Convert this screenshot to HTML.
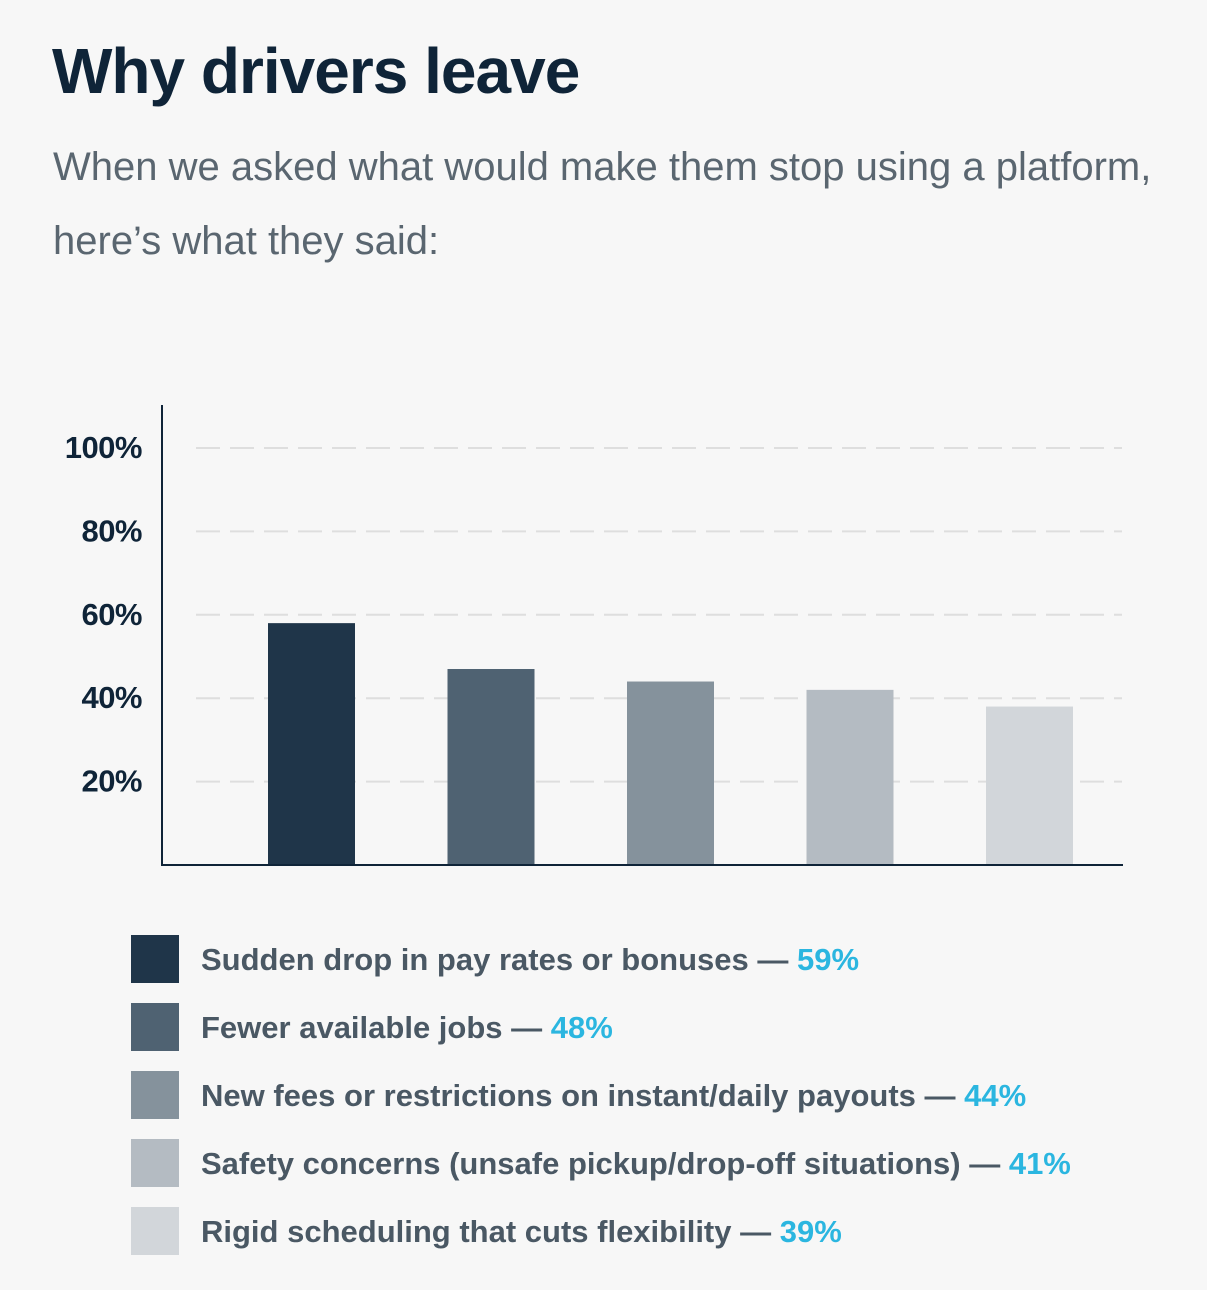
<!DOCTYPE html>
<html><head><meta charset="utf-8">
<style>
html,body{margin:0;padding:0;background:#f7f7f7;}
body{width:1207px;height:1290px;position:relative;overflow:hidden;font-family:"Liberation Sans",sans-serif;}
h1{position:absolute;left:52px;top:34px;margin:0;font-size:64px;font-weight:bold;color:#0f2438;letter-spacing:-1px;line-height:74px;}
.sub{position:absolute;left:53px;top:130px;width:1150px;margin:0;font-size:40px;color:#5a6670;line-height:74px;}
svg{position:absolute;left:0;top:0;}
</style></head>
<body>
<h1>Why drivers leave</h1>
<p class="sub">When we asked what would make them stop using a platform,<br>here’s what they said:</p>
<svg id="chart" width="1207" height="1290"></svg>
<script>
const categories = ["Sudden drop in pay rates or bonuses","Fewer available jobs","New fees or restrictions on instant/daily payouts","Safety concerns (unsafe pickup/drop-off situations) ","Rigid scheduling that cuts flexibility"];
const values = [58,47,44,42,38];
const legendPercents = ["59%","48%","44%","41%","39%"];
const ticks = [20,40,60,80,100];
const tickLabels = ["20%","40%","60%","80%","100%"];
const colors = ["#1f3549","#4f6272","#85929c","#b4bbc2","#d2d6da"];

const NS="http://www.w3.org/2000/svg";
const svg=document.getElementById('chart');
const y0=865, pxPer=(865-448)/100;
function yScale(v){return y0 - v*pxPer;}
function xScale(i){return 268 + i*179.5;}
function mk(tag,attrs){const e=document.createElementNS(NS,tag);for(const k in attrs)e.setAttribute(k,attrs[k]);svg.appendChild(e);return e;}

ticks.forEach((t,i)=>{
  const g=mk('line',{x1:196,x2:1122,y1:yScale(t),y2:yScale(t),stroke:'#dedede','stroke-width':2,'stroke-dasharray':'24 10'});
  
  
  const tx=mk('text',{x:142,y:yScale(t)+10,'text-anchor':'end','font-size':31,'font-weight':'bold',fill:'#0f2438','letter-spacing':'-0.5'});
  tx.textContent=tickLabels[i];
  
  
});
values.forEach((v,i)=>{
  const r=mk('rect',{x:xScale(i),y:yScale(v),width:87,height:y0-yScale(v),fill:colors[i]});
  
  
});
const ya=mk('line',{x1:162,x2:162,y1:405,y2:866,stroke:'#0f2438','stroke-width':2});


const xa=mk('line',{x1:161,x2:1123,y1:865,y2:865,stroke:'#0f2438','stroke-width':2});



categories.forEach((c,i)=>{
  const y=935+i*68;
  const sw=mk('rect',{x:131,y:y,width:48,height:48,fill:colors[i]});
  
  
  const t=mk('text',{x:201,y:y+35,'font-size':31,'font-weight':'bold',fill:'#4a5864'});
  
  
  const s1=document.createElementNS(NS,'tspan');s1.textContent=c+' — ';t.appendChild(s1);
  const s2=document.createElementNS(NS,'tspan');s2.setAttribute('fill','#2bb6e0');s2.textContent=legendPercents[i];t.appendChild(s2);
});
</script>
</body></html>
